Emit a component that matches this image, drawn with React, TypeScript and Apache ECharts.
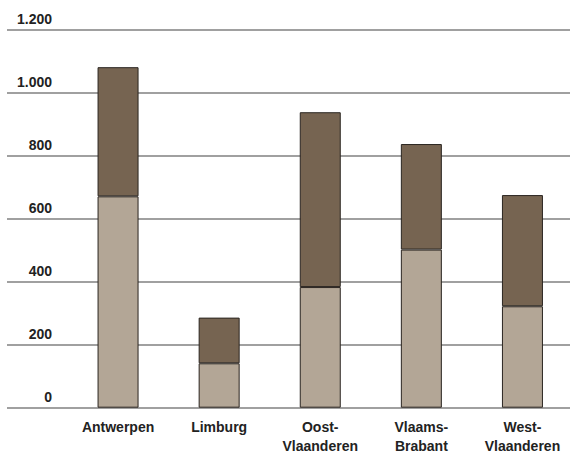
import React, { useEffect, useRef } from "react";
import * as echarts from "echarts";

const categories = ["Antwerpen", "Limburg", "Oost-\nVlaanderen", "Vlaams-\nBrabant", "West-\nVlaanderen"];
const lowerValues = [671, 141, 383, 502, 322];
const upperValues = [410, 145, 555, 335, 353];
const yTicks = [0, 200, 400, 600, 800, 1000, 1200];

const FONT = "'Liberation Sans', Arial, sans-serif";

export default function App() {
  const ref = useRef<HTMLDivElement>(null);
  useEffect(() => {
    if (!ref.current) return;
    const chart = echarts.init(ref.current, null, { renderer: "svg" });
    const yMin = yTicks[0];
    const yMax = yTicks[yTicks.length - 1];
    const yInterval = yTicks[1] - yTicks[0];
    chart.setOption({
      animation: false,
      backgroundColor: "#ffffff",
      grid: [
        { left: 7, right: 0, top: 29.7, bottom: 45.3, containLabel: false, outerBoundsMode: "none" },
        { left: 67.5, width: 505.5, top: 29.7, bottom: 45.3, containLabel: false, outerBoundsMode: "none" },
      ],
      xAxis: [
        { type: "category", gridIndex: 0, data: categories, show: false },
        {
          type: "category",
          gridIndex: 1,
          data: categories,
          axisLine: { show: false },
          axisTick: { show: false },
          axisLabel: {
            interval: 0,
            color: "#222",
            fontFamily: FONT,
            fontWeight: "bold",
            fontSize: 14,
            lineHeight: 19,
            margin: 10,
            verticalAlign: "top",
          },
        },
      ],
      yAxis: [
        {
          type: "value",
          gridIndex: 0,
          min: yMin,
          max: yMax,
          interval: yInterval,
          axisLine: { show: false },
          axisTick: { show: false },
          splitLine: { show: true, lineStyle: { color: "#808080", width: 1.5 } },
          axisLabel: {
            inside: true,
            align: "right",
            verticalAlign: "bottom",
            margin: 45,
            padding: [0, 0, 4, 0],
            color: "#222",
            fontFamily: FONT,
            fontWeight: "bold",
            fontSize: 14,
            formatter: (v: number) => String(v).replace(/\B(?=(\d{3})+(?!\d))/g, "."),
          },
        },
        {
          type: "value",
          gridIndex: 1,
          min: yMin,
          max: yMax,
          interval: yInterval,
          show: false,
          splitLine: { show: false },
        },
      ],
      series: [
        {
          type: "bar",
          xAxisIndex: 1,
          yAxisIndex: 1,
          stack: "total",
          data: lowerValues,
          barWidth: 41,
          itemStyle: { color: "#b3a696", borderColor: "#2a2520", borderWidth: 1 },
        },
        {
          type: "bar",
          xAxisIndex: 1,
          yAxisIndex: 1,
          stack: "total",
          data: upperValues,
          barWidth: 41,
          itemStyle: { color: "#766451", borderColor: "#2a2520", borderWidth: 1 },
        },
      ],
    });
    return () => chart.dispose();
  }, []);
  return (
    <div
      ref={ref}
      style={{ position: "absolute", left: 0, top: 0, width: 570, height: 453 }}
    />
  );
}
